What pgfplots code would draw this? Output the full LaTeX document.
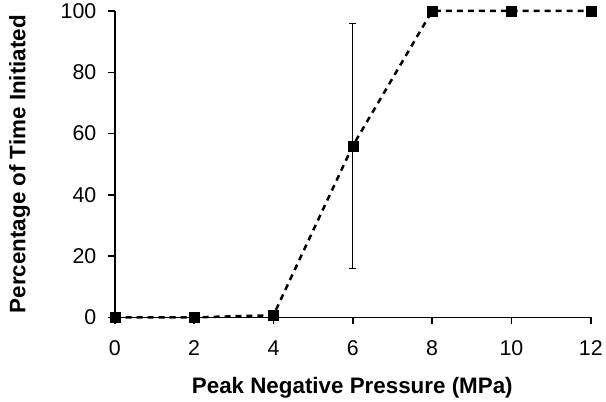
\documentclass[border=0pt]{standalone}
\usepackage{pgfplots}
\pgfplotsset{compat=1.18}
\usepackage{fontspec}
\setmainfont{Liberation Sans}
\begin{document}
\begin{tikzpicture}
\begin{axis}[
  name=ax,
  scale only axis,
  width=477bp, height=307bp,
  xmin=0, xmax=12, ymin=0, ymax=100,
  xtick={0,2,...,12}, ytick={0,20,...,100},
  axis lines*=left,
  axis line style={line width=1.5bp, black},
  tick style={line width=1.5bp, black},
  tick align=outside,
  major tick length=7bp,
  clip=false,
  /pgf/number format/assume math mode=true,
  tick label style={font=\fontsize{21.5}{25}\selectfont},
  xticklabel style={yshift=-13bp},
  yticklabel style={xshift=-8bp},
  xlabel={Peak Negative Pressure (MPa)},
  ylabel={Percentage of Time Initiated},
  label style={font=\fontsize{22.5}{27}\selectfont\bfseries},
  xlabel style={at={(axis description cs:0.499,-0.2476)}, anchor=base},
  ylabel style={at={(axis description cs:-0.2,0.5)}, anchor=center},
]
\addplot[black, line width=2.5bp, dash pattern=on 6bp off 5bp,
  mark=square*, mark size=5bp, mark options={solid, line width=0.5bp}]
  coordinates {(0,0) (2,0) (4,0.7) (6,56) (8,100) (10,100) (12,100)};
\addplot[forget plot, only marks, mark=none, black,
  error bars/.cd, y dir=both, y explicit,
  error mark=-, error mark options={rotate=90, black, solid, mark size=3.5bp, line width=0.7bp},
  error bar style={black, solid, line width=0.7bp}]
  coordinates {(6,56) +- (0,40)};
\end{axis}
\useasboundingbox ([xshift=-115bp, yshift=-84bp]ax.south west) rectangle ([xshift=14bp, yshift=11bp]ax.north east);
\end{tikzpicture}
\end{document}
